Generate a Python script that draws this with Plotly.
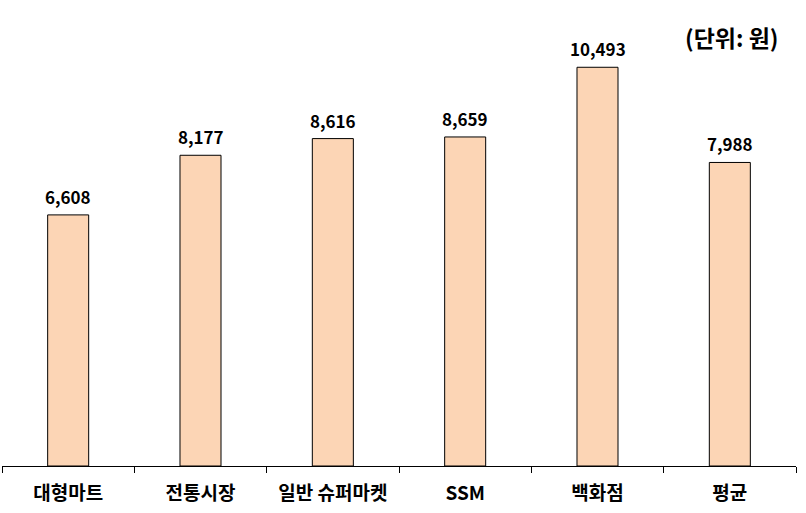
import plotly.graph_objects as go

categories = ["대형마트", "전통시장", "일반 슈퍼마켓", "SSM", "백화점", "평균"]
values = [6608, 8177, 8616, 8659, 10493, 7988]
value_labels = ["6,608", "8,177", "8,616", "8,659", "10,493", "7,988"]

FONT = "Noto Sans CJK KR"

fig = go.Figure(go.Bar(
    x=categories, y=values,
    width=0.31,
    marker=dict(color="#FCD5B5", line=dict(color="black", width=1)),
    hoverinfo="skip",
))

for c, v, t in zip(categories, values, value_labels):
    fig.add_annotation(x=c, y=v, text=f"<b>{t}</b>", showarrow=False,
                       yanchor="bottom", yshift=4,
                       font=dict(family=FONT, size=17, color="black"))

fig.add_annotation(xref="paper", yref="paper", x=0.92, y=0.94,
                   text="<b>(단위: 원)</b>", showarrow=False,
                   xanchor="center", yanchor="middle",
                   font=dict(family=FONT, size=23, color="black"))

fig.update_layout(
    width=806, height=513,
    margin=dict(l=2, r=10, t=10, b=47),
    plot_bgcolor="white", paper_bgcolor="white",
    showlegend=False,
    xaxis=dict(showline=True, linecolor="black", linewidth=1,
               ticks="outside", tickson="boundaries", ticklen=6,
               tickcolor="black", showgrid=False,
               tickfont=dict(family=FONT, size=19, color="black"),
               ticklabelstandoff=10,
               tickvals=categories, ticktext=[f"<b>{c}</b>" for c in categories]),
    yaxis=dict(range=[0, 12000], visible=False, showgrid=False),
)

fig.write_html("out.html", config={"displayModeBar": False},
               post_script="document.body.style.margin='0';")
